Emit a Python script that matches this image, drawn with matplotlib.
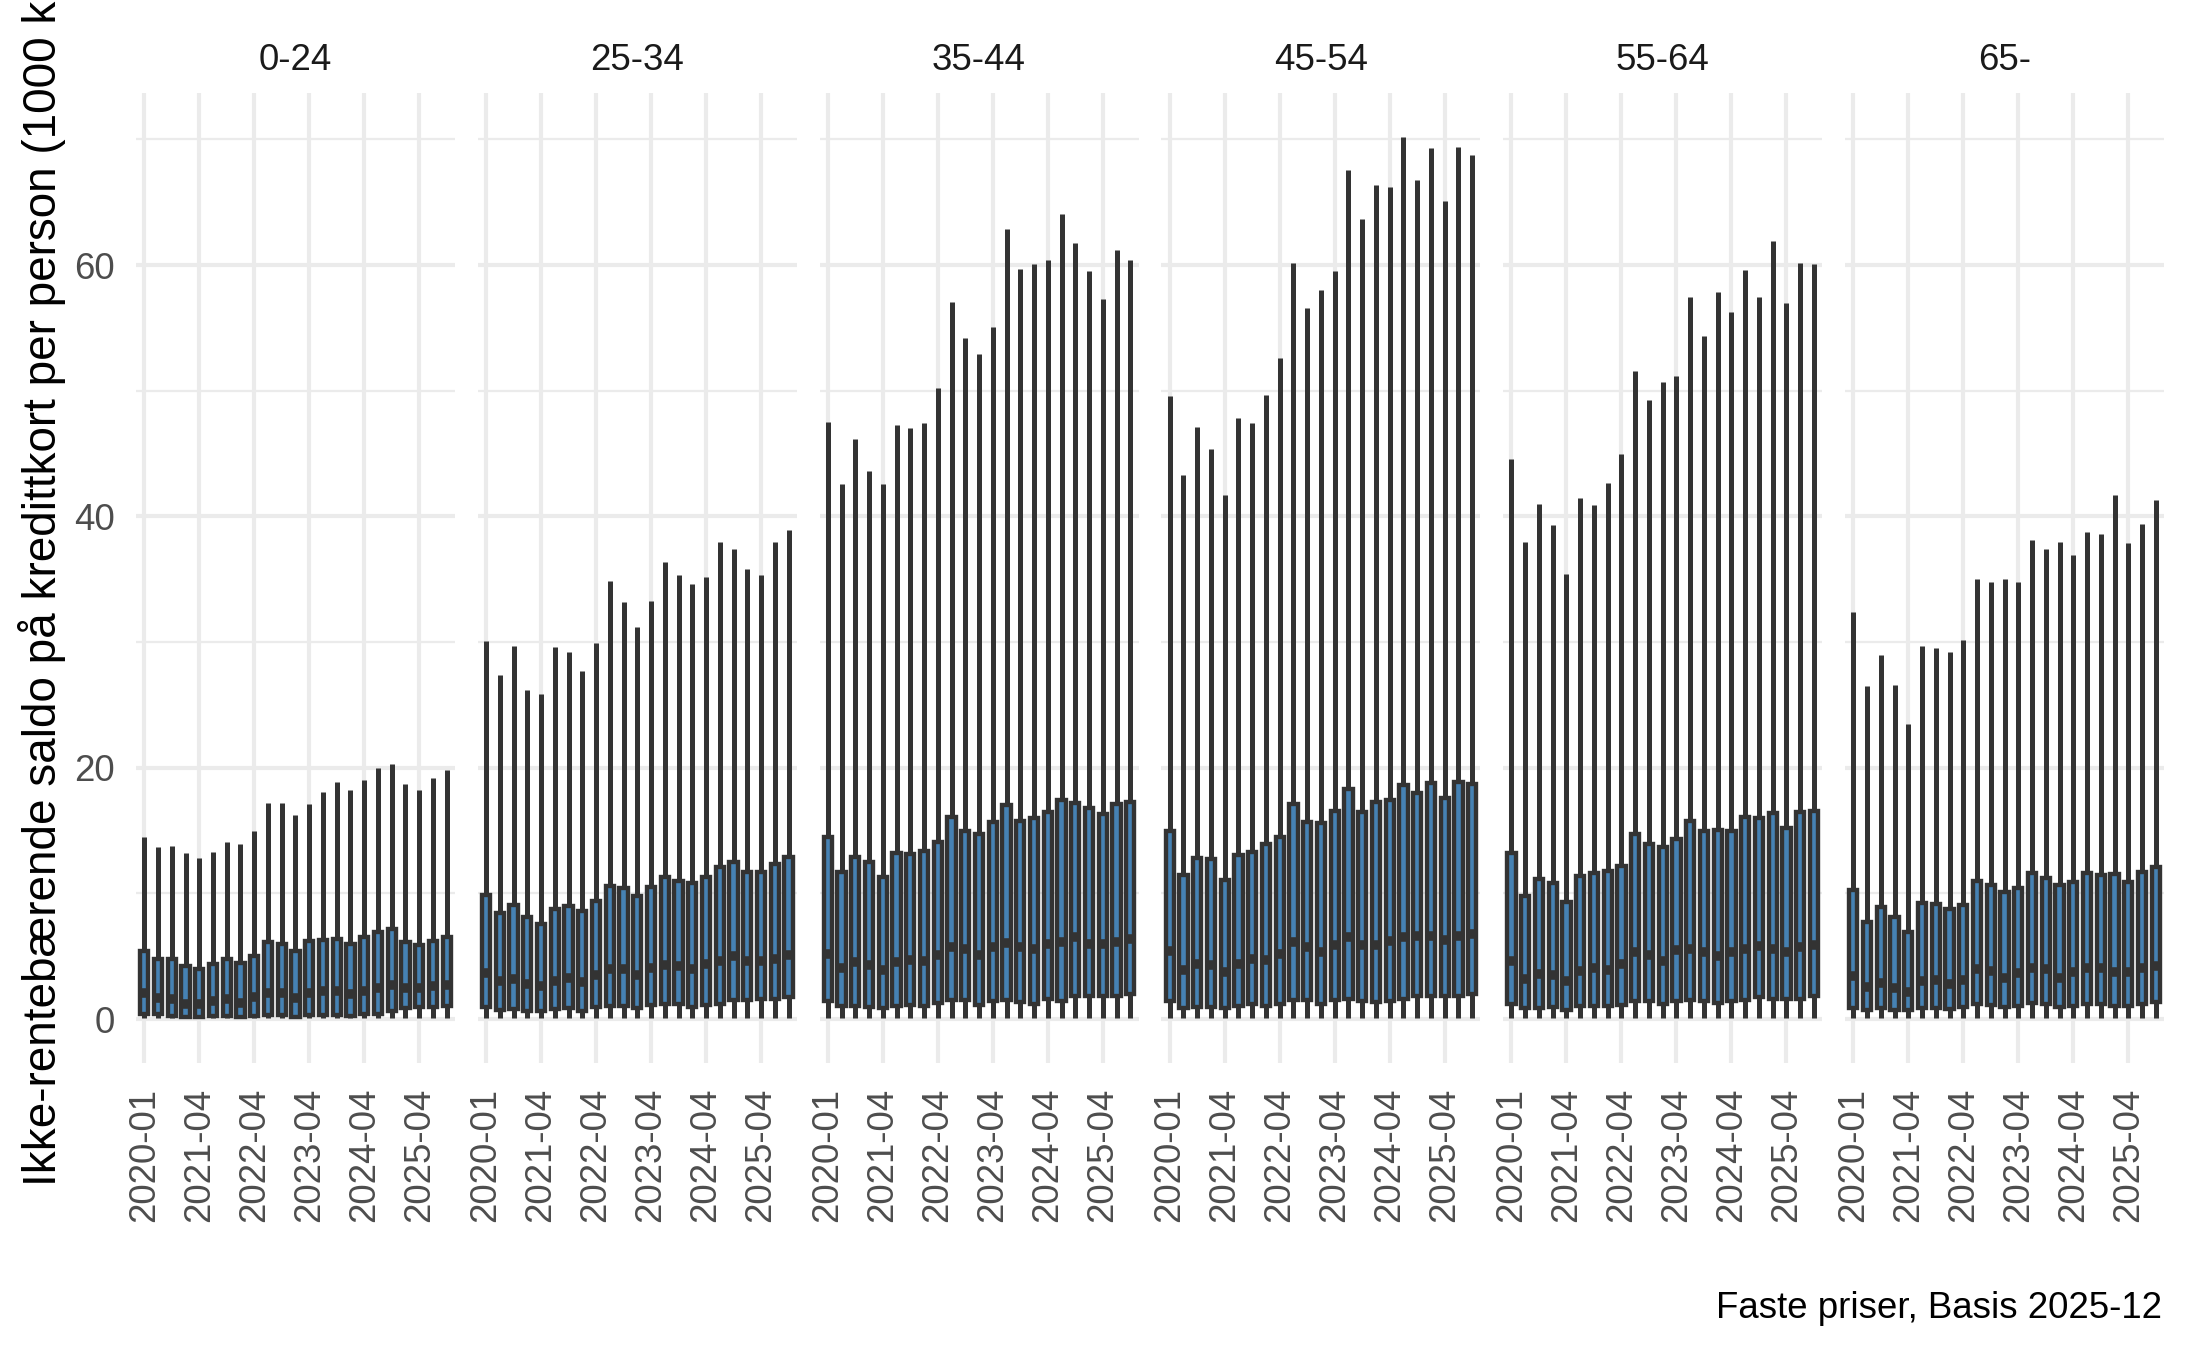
import matplotlib
matplotlib.use("Agg")
import matplotlib.pyplot as plt
from matplotlib.ticker import FixedLocator

plt.rcParams["font.family"] = ["Liberation Sans", "DejaVu Sans"]

# age groups (facets)
groups = ["0-24", "25-34", "35-44", "45-54", "55-64", "65-"]

# x categories (23 periods), every 4th one is labelled
periods = ["2020-01", "2020-07", "2020-10", "2021-01",
           "2021-04", "2021-07", "2021-10", "2022-01",
           "2022-04", "2022-07", "2022-10", "2023-01",
           "2023-04", "2023-07", "2023-10", "2024-01",
           "2024-04", "2024-07", "2024-10", "2025-01",
           "2025-04", "2025-07", "2025-10"]
shown_labels = ["2020-01", "2021-04", "2022-04", "2023-04", "2024-04", "2025-04"]

# upper whisker ends
whisker_hi = [
    [14.5, 13.7, 13.8, 13.2, 12.8, 13.3, 14.1, 13.9, 15.0, 17.2, 17.2, 16.2,
     17.1, 18.1, 18.9, 18.2, 19.0, 20.0, 20.3, 18.7, 18.2, 19.2, 19.8],
    [30.1, 27.4, 29.7, 26.2, 25.9, 29.6, 29.2, 27.7, 29.9, 34.9, 33.2, 31.2,
     33.3, 36.4, 35.3, 34.6, 35.2, 38.0, 37.4, 35.8, 35.3, 38.0, 38.9],
    [47.5, 42.6, 46.2, 43.6, 42.6, 47.3, 47.0, 47.4, 50.2, 57.1, 54.2, 52.9,
     55.1, 62.9, 59.7, 60.1, 60.4, 64.1, 61.8, 59.5, 57.3, 61.2, 60.4],
    [49.6, 43.3, 47.1, 45.4, 41.7, 47.8, 47.4, 49.7, 52.6, 60.2, 56.6, 58.0,
     59.5, 67.6, 63.7, 66.4, 66.2, 70.2, 66.8, 69.3, 65.1, 69.4, 68.8],
    [44.6, 38.0, 41.0, 39.3, 35.4, 41.5, 40.9, 42.7, 45.0, 51.6, 49.3, 50.7,
     51.2, 57.5, 54.4, 57.9, 56.3, 59.6, 57.5, 61.9, 57.0, 60.2, 60.1],
    [32.4, 26.5, 29.0, 26.6, 23.5, 29.7, 29.5, 29.2, 30.2, 35.0, 34.8, 35.0,
     34.8, 38.1, 37.4, 38.0, 36.9, 38.8, 38.6, 41.7, 37.9, 39.4, 41.3],
]

# upper quartile
q3 = [
    [5.4, 4.8, 4.8, 4.2, 4.0, 4.35, 4.75, 4.45, 5.0, 6.1, 6.0, 5.4,
     6.2, 6.3, 6.4, 6.0, 6.5, 6.9, 7.2, 6.1, 5.9, 6.2, 6.5],
    [9.9, 8.4, 9.1, 8.1, 7.6, 8.75, 9.0, 8.6, 9.4, 10.6, 10.4, 9.8,
     10.5, 11.3, 11.0, 10.8, 11.3, 12.1, 12.5, 11.7, 11.7, 12.3, 12.9],
    [14.5, 11.7, 12.9, 12.5, 11.3, 13.2, 13.1, 13.4, 14.1, 16.1, 15.0, 14.7,
     15.65, 17.0, 15.8, 16.0, 16.45, 17.4, 17.2, 16.8, 16.3, 17.1, 17.3],
    [15.0, 11.5, 12.8, 12.7, 11.1, 13.05, 13.3, 13.9, 14.5, 17.1, 15.7, 15.6,
     16.55, 18.3, 16.5, 17.3, 17.45, 18.6, 18.0, 18.75, 17.6, 18.9, 18.7],
    [13.2, 9.8, 11.15, 10.8, 9.3, 11.4, 11.65, 11.8, 12.2, 14.7, 13.9, 13.7,
     14.3, 15.8, 15.0, 15.05, 15.0, 16.1, 16.0, 16.4, 15.2, 16.5, 16.55],
    [10.25, 7.75, 8.95, 8.1, 6.9, 9.2, 9.15, 8.75, 9.05, 10.95, 10.7, 10.1,
     10.4, 11.6, 11.2, 10.7, 10.9, 11.6, 11.45, 11.55, 10.9, 11.7, 12.1],
]

# median
median = [
    [2.1, 1.7, 1.6, 1.2, 1.2, 1.4, 1.6, 1.3, 1.75, 2.1, 2.1, 1.7,
     2.1, 2.25, 2.2, 2.0, 2.25, 2.45, 2.7, 2.5, 2.45, 2.6, 2.7],
    [3.7, 3.0, 3.2, 2.75, 2.6, 3.0, 3.25, 2.95, 3.5, 4.0, 4.0, 3.5,
     4.1, 4.3, 4.2, 4.0, 4.35, 4.6, 5.0, 4.6, 4.6, 4.8, 5.1],
    [5.2, 4.1, 4.5, 4.3, 3.9, 4.5, 4.7, 4.6, 5.1, 5.7, 5.55, 5.1,
     5.75, 6.05, 5.7, 5.55, 6.0, 6.15, 6.5, 6.0, 6.0, 6.15, 6.4],
    [5.4, 3.9, 4.4, 4.3, 3.75, 4.4, 4.8, 4.7, 5.15, 6.1, 5.75, 5.3,
     5.9, 6.5, 5.9, 5.9, 6.2, 6.55, 6.6, 6.6, 6.3, 6.6, 6.75],
    [4.6, 3.2, 3.6, 3.5, 3.0, 3.85, 4.1, 3.9, 4.35, 5.3, 5.1, 4.6,
     5.5, 5.6, 5.35, 5.0, 5.3, 5.6, 5.85, 5.6, 5.35, 5.7, 5.9],
    [3.45, 2.55, 2.9, 2.45, 2.15, 3.05, 3.1, 2.75, 3.1, 4.0, 3.85, 3.3,
     3.7, 4.1, 4.0, 3.3, 3.75, 4.05, 4.05, 3.75, 3.75, 4.05, 4.2],
]

# lower quartile
q1 = [
    [0.42, 0.4, 0.27, 0.2, 0.2, 0.27, 0.27, 0.2, 0.27, 0.3, 0.3, 0.2,
     0.35, 0.35, 0.35, 0.27, 0.4, 0.4, 0.6, 0.9, 0.95, 0.95, 1.0],
    [0.93, 0.71, 0.79, 0.66, 0.66, 0.79, 0.85, 0.66, 0.93, 1.06, 1.06, 0.85,
     1.11, 1.19, 1.19, 0.98, 1.14, 1.19, 1.53, 1.53, 1.59, 1.59, 1.72],
    [1.4, 1.0, 1.06, 0.95, 0.87, 1.0, 1.14, 1.06, 1.27, 1.54, 1.54, 1.14,
     1.4, 1.54, 1.32, 1.19, 1.59, 1.46, 1.8, 1.8, 1.8, 1.8, 1.99],
    [1.4, 0.87, 0.95, 0.95, 0.87, 1.06, 1.19, 1.06, 1.22, 1.54, 1.54, 1.19,
     1.54, 1.59, 1.4, 1.32, 1.46, 1.59, 1.8, 1.85, 1.8, 1.85, 1.99],
    [1.22, 0.87, 0.87, 0.95, 0.74, 1.0, 1.0, 1.0, 1.14, 1.4, 1.4, 1.19,
     1.4, 1.54, 1.46, 1.27, 1.4, 1.54, 1.72, 1.59, 1.59, 1.59, 1.8],
    [0.87, 0.71, 0.87, 0.74, 0.71, 0.87, 0.87, 0.79, 0.92, 1.19, 1.11, 0.92,
     1.06, 1.24, 1.19, 0.92, 1.06, 1.19, 1.19, 1.06, 1.06, 1.19, 1.32],
]

# lower whisker end (close to zero in every panel)
whisker_lo = [0.05, 0.05, 0.05, 0.05, 0.05, 0.05]

W, H = 2187, 1350
fig = plt.figure(figsize=(W / 300, H / 300), dpi=300)

left0, pw, step = 136, 319, 341.8
top_px, bot_px = 93, 1063
grid_col = "#EBEBEB"
box_col = "#4682B4"
line_col = "#333333"
positions = list(range(1, len(periods) + 1))
tick_pos = [periods.index(p) + 1 for p in shown_labels]

for g, name in enumerate(groups):
    x0 = left0 + g * step
    ax = fig.add_axes([x0 / W, 1 - bot_px / H, pw / W, (bot_px - top_px) / H])

    stats = []
    for i in range(len(periods)):
        stats.append(dict(med=median[g][i], q1=q1[g][i], q3=q3[g][i],
                          whislo=whisker_lo[g], whishi=whisker_hi[g][i],
                          fliers=[]))
    ax.bxp(stats, positions=positions, widths=0.6, patch_artist=True,
           showcaps=False, showfliers=False,
           boxprops=dict(facecolor=box_col, edgecolor=line_col, linewidth=1.05),
           whiskerprops=dict(color=line_col, linewidth=1.2, solid_capstyle="butt"),
           medianprops=dict(color=line_col, linewidth=2.3, solid_capstyle="butt"))

    ax.set_xlim(0.4, len(periods) + 0.6)
    ax.set_ylim(-3.5, 73.7)
    ax.set_xticks(tick_pos)
    ax.set_xticklabels(shown_labels, rotation=90, fontsize=8.8, color="#4D4D4D")
    ax.yaxis.set_major_locator(FixedLocator([0, 20, 40, 60]))
    ax.yaxis.set_minor_locator(FixedLocator([10, 30, 50, 70]))
    ax.grid(True, which="major", color=grid_col, linewidth=1.0)
    ax.grid(True, which="minor", axis="y", color=grid_col, linewidth=0.55)
    ax.set_axisbelow(True)
    ax.tick_params(which="both", length=0)
    ax.tick_params(axis="x", pad=6)
    ax.tick_params(axis="y", pad=5, labelsize=8.8, labelcolor="#4D4D4D")
    for s in ax.spines.values():
        s.set_visible(False)
    if g == 0:
        ax.set_yticklabels(["0", "20", "40", "60"])
    else:
        ax.set_yticklabels([])

    fig.text((x0 + pw / 2) / W, 1 - 60 / H, name, ha="center", va="center",
             fontsize=8.8, color="#1A1A1A")

# the long axis title runs past the top edge, as in the original
fig.text(42 / W, 1 - ((top_px + bot_px) / 2) / H,
         "Ikke-rentebærende saldo på kredittkort per person (1000 kr)",
         rotation=90, ha="center", va="center", fontsize=11, color="black")

fig.text(2162 / W, 1 - 1308 / H, "Faste priser, Basis 2025-12",
         ha="right", va="center", fontsize=8.8, color="black")

fig.savefig("out.png", dpi=300, facecolor="white")
